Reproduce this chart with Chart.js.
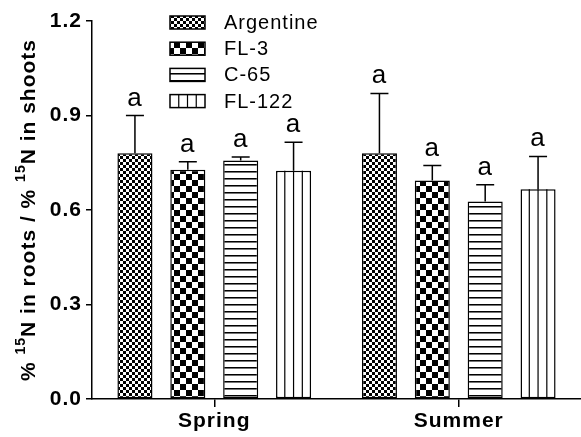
<!DOCTYPE html>
<html>
<head>
<meta charset="utf-8">
<script src="https://cdn.jsdelivr.net/npm/chart.js@4"></script>
<style>
  html, body { margin: 0; padding: 0; background: #fff; }
  #chart { display: block; }
</style>
</head>
<body>
<canvas id="chart" width="581" height="437"></canvas>
<script>
// Data
const seasons = ['Spring', 'Summer'];
const cultivars = ['Argentine', 'FL-3', 'C-65', 'FL-122'];
const argentine = [0.78, 0.78];
const fl3 = [0.728, 0.694];
const c65 = [0.757, 0.627];
const fl122 = [0.725, 0.666];
const argentineErr = [0.12, 0.19];
const fl3Err = [0.025, 0.047];
const c65Err = [0.011, 0.053];
const fl122Err = [0.09, 0.104];
const letters = ['a', 'a'];
const yTicks = [0, 0.3, 0.6, 0.9, 1.2];

const FONT = '"Liberation Sans", Arial, sans-serif';
const SPACING = '1px';

// Fill patterns
function makePattern(size, draw) {
  const c = document.createElement('canvas');
  c.width = size;
  c.height = size;
  const g = c.getContext('2d');
  g.fillStyle = '#fff';
  g.fillRect(0, 0, size, size);
  g.fillStyle = '#000';
  draw(g, size);
  return g.createPattern(c, 'repeat');
}

const fineChecks = makePattern(6, (g) => {
  g.fillRect(0, 0, 3, 3);
  g.fillRect(3, 3, 3, 3);
});
const bigChecks = makePattern(12, (g) => {
  g.fillRect(0, 0, 6, 6);
  g.fillRect(6, 6, 6, 6);
});
const hLines = makePattern(7, (g) => {
  g.fillRect(0, 3, 7, 1);
  g.fillStyle = 'rgba(0,0,0,0.55)';
  g.fillRect(0, 4, 7, 1);
});

const fills = [fineChecks, bigChecks, hLines, '#fff'];
const values = [argentine, fl3, c65, fl122];
const errors = [argentineErr, fl3Err, c65Err, fl122Err];

function drawVerticalLines(ctx, left, top, width, bottom) {
  ctx.save();
  ctx.strokeStyle = '#000';
  ctx.lineWidth = 1.2;
  ctx.beginPath();
  for (let k = 1; k < 4; k++) {
    const x = left + (width * k) / 4;
    ctx.moveTo(x, top);
    ctx.lineTo(x, bottom);
  }
  ctx.stroke();
  ctx.restore();
}

const spacingPlugin = {
  id: 'spacing',
  beforeUpdate(chart) { chart.ctx.letterSpacing = SPACING; },
  beforeDraw(chart) { chart.ctx.letterSpacing = SPACING; },
};

const decorPlugin = {
  id: 'decor',
  afterDatasetsDraw(chart) {
    const ctx = chart.ctx;
    const yScale = chart.scales.y;

    // vertical stripes for FL-122
    chart.getDatasetMeta(3).data.forEach((bar) => {
      const p = bar.getProps(['x', 'y', 'base', 'width'], true);
      drawVerticalLines(ctx, p.x - p.width / 2, p.y, p.width, p.base);
    });

    // error bars + letters
    ctx.save();
    ctx.strokeStyle = '#000';
    ctx.lineWidth = 1.5;
    ctx.fillStyle = '#000';
    ctx.font = '26px ' + FONT;
    ctx.textAlign = 'center';
    ctx.textBaseline = 'alphabetic';
    values.forEach((vals, i) => {
      const meta = chart.getDatasetMeta(i);
      meta.data.forEach((bar, j) => {
        const p = bar.getProps(['x', 'y'], true);
        const top = yScale.getPixelForValue(vals[j] + errors[i][j]);
        ctx.beginPath();
        ctx.moveTo(p.x, p.y);
        ctx.lineTo(p.x, top);
        ctx.moveTo(p.x - 9, top);
        ctx.lineTo(p.x + 9, top);
        ctx.stroke();
        ctx.fillText(letters[j], p.x, top - 10);
      });
    });
    ctx.restore();
  },
  afterDraw(chart) {
    const ctx = chart.ctx;

    // legend inside the plot area
    ctx.save();
    ctx.font = '20px ' + FONT;
    ctx.textBaseline = 'middle';
    ctx.textAlign = 'left';
    cultivars.forEach((name, i) => {
      const cy = 22.5 + i * 26.2;
      const bx = 170, bw = 35, bh = 13, by = cy - bh / 2;
      ctx.fillStyle = fills[i];
      ctx.fillRect(bx, by, bw, bh);
      if (i === 3) drawVerticalLines(ctx, bx, by, bw, by + bh);
      ctx.strokeStyle = '#000';
      ctx.lineWidth = 1.5;
      ctx.strokeRect(bx, by, bw, bh);
      ctx.fillStyle = '#000';
      ctx.fillText(name, 224, cy + 1);
    });
    ctx.restore();

    // y-axis title with superscripts
    const parts = [
      { t: '% ', sup: false },
      { t: '15', sup: true },
      { t: 'N in roots / % ', sup: false },
      { t: '15', sup: true },
      { t: 'N in shoots', sup: false },
    ];
    const big = 'bold 21px ' + FONT;
    const small = 'bold 14px ' + FONT;
    ctx.save();
    let total = 0;
    parts.forEach((p) => {
      ctx.font = p.sup ? small : big;
      p.w = ctx.measureText(p.t).width;
      total += p.w;
    });
    const area = chart.chartArea;
    ctx.translate(35, (area.top + area.bottom) / 2);
    ctx.rotate(-Math.PI / 2);
    ctx.fillStyle = '#000';
    ctx.textBaseline = 'alphabetic';
    ctx.textAlign = 'left';
    let x = -total / 2;
    parts.forEach((p) => {
      ctx.font = p.sup ? small : big;
      ctx.fillText(p.t, x, p.sup ? -10 : 0);
      x += p.w;
    });
    ctx.restore();
  },
};

const datasets = cultivars.map((name, i) => ({
  label: name,
  data: values[i],
  backgroundColor: fills[i],
  borderColor: '#000',
  borderWidth: 1.5,
  borderSkipped: false,
  categoryPercentage: 0.865,
  barPercentage: 0.663,
}));

new Chart(document.getElementById('chart'), {
  type: 'bar',
  data: { labels: seasons, datasets: datasets },
  options: {
    responsive: false,
    animation: false,
    devicePixelRatio: 1,
    layout: { padding: { top: 21, right: 0, left: 0, bottom: 0 } },
    plugins: {
      legend: { display: false },
      tooltip: { enabled: false },
    },
    scales: {
      x: {
        grid: {
          drawOnChartArea: false,
          offset: false,
          tickLength: 8,
          color: '#000',
          lineWidth: 1.5,
        },
        border: { color: '#000', width: 1.5 },
        ticks: {
          color: '#000',
          padding: 2,
          font: { family: FONT, size: 21, weight: 'bold' },
        },
        afterFit(s) { s.height = 38; },
      },
      y: {
        min: 0,
        max: 1.2,
        afterBuildTicks(s) { s.ticks = yTicks.map((v) => ({ value: v })); },
        grid: {
          drawOnChartArea: false,
          tickLength: 6,
          color: '#000',
          lineWidth: 1.5,
        },
        border: { color: '#000', width: 1.5 },
        ticks: {
          color: '#000',
          padding: 4,
          font: { family: FONT, size: 21, weight: 'bold' },
          callback: (v) => Number(v).toFixed(1),
        },
        afterFit(s) { s.width = 92; },
      },
    },
  },
  plugins: [spacingPlugin, decorPlugin],
});
</script>
</body>
</html>
